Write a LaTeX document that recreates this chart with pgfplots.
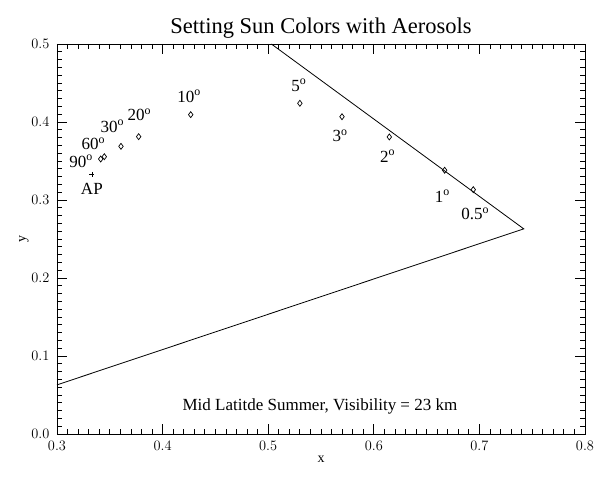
\documentclass[border=0pt]{standalone}
\usepackage{pgfplots}
\pgfplotsset{compat=1.18}
\usepackage{fontspec}
\setmainfont{Liberation Serif}
\newfontfamily\helv{Liberation Sans}
\begin{document}
\begin{tikzpicture}
\begin{axis}[
  width=528pt, height=390pt, scale only axis,
  xmin=0.3, xmax=0.8, ymin=0, ymax=0.5,
  minor x tick num=9, minor y tick num=9,
  major tick length=10pt, minor tick length=5pt,
  every tick/.style={black, line width=0.8pt},
  xtick distance=0.1, ytick distance=0.1,
  xticklabel style={font=\helv\fontsize{15}{15}\selectfont, yshift=-4pt},
  yticklabel style={font=\helv\fontsize{15}{15}\selectfont, xshift=-4pt},
  xticklabel={\pgfmathprintnumber[fixed,precision=1,fixed zerofill]{\tick}},
  yticklabel={\pgfmathprintnumber[fixed,precision=1,fixed zerofill]{\tick}},
  xlabel={x}, ylabel={y},
  xlabel style={font=\fontsize{14}{14}\selectfont, yshift=2pt},
  ylabel style={font=\fontsize{14}{14}\selectfont, yshift=-4pt},
  title={Setting Sun Colors with Aerosols},
  title style={font=\fontsize{22.5}{22.5}\selectfont, yshift=-4pt},
]
\addplot[black, line width=0.8pt] coordinates {(0.3,0.063) (0.742,0.263) (0.503,0.5)};
\addplot[only marks, mark=diamond, mark size=3pt, mark options={line width=0.7pt}] coordinates {
 (0.3414,0.3526) (0.3448,0.3555) (0.3606,0.3688) (0.3773,0.3812) (0.4266,0.4094)
 (0.530,0.424) (0.5699,0.4068) (0.6147,0.3808) (0.6671,0.3381) (0.6942,0.3132)};
\addplot[only marks, mark=+, mark size=2.5pt] coordinates {(0.333,0.333)};
\begin{scope}[every node/.style={font=\fontsize{17}{17}\selectfont, inner sep=0pt}]
\node at (axis cs:0.3228,0.3495) {90\textsuperscript{o}};
\node at (axis cs:0.3345,0.3725) {60\textsuperscript{o}};
\node at (axis cs:0.3525,0.3945) {30\textsuperscript{o}};
\node at (axis cs:0.3780,0.4090) {20\textsuperscript{o}};
\node at (axis cs:0.4250,0.4330) {10\textsuperscript{o}};
\node at (axis cs:0.5290,0.4470) {5\textsuperscript{o}};
\node at (axis cs:0.5680,0.3820) {3\textsuperscript{o}};
\node at (axis cs:0.6130,0.3560) {2\textsuperscript{o}};
\node at (axis cs:0.6650,0.3050) {1\textsuperscript{o}};
\node at (axis cs:0.6960,0.2820) {0.5\textsuperscript{o}};
\node at (axis cs:0.333,0.314) {AP};
\node at (axis cs:0.549,0.035) {Mid Latitde Summer, Visibility = 23 km};
\end{scope}
\end{axis}
\path (-57pt,-43pt) rectangle (549pt,434pt);
\end{tikzpicture}
\end{document}
